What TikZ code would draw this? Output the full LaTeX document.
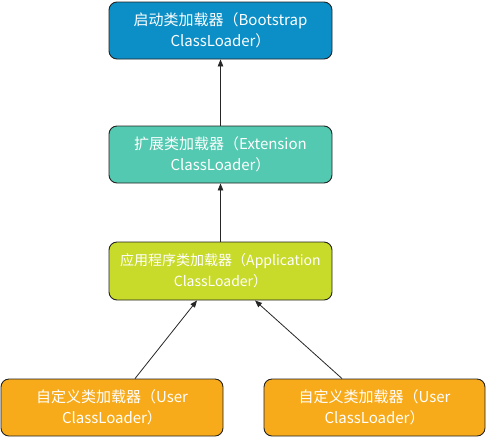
\documentclass[tikz,border=0pt]{standalone}
\usepackage{fontspec}
\setmainfont{Noto Sans CJK SC}
\usetikzlibrary{arrows.meta}
\definecolor{cblue}{HTML}{0B8FC6}
\definecolor{cteal}{HTML}{52C9B0}
\definecolor{clime}{HTML}{C8DA2A}
\definecolor{corange}{HTML}{F8AB1A}
\definecolor{cedge}{HTML}{222222}
\begin{document}
\begin{tikzpicture}[x=1pt,y=-1pt,
  loader/.style={draw=cedge,line width=0.9pt,rounded corners=8pt,text=white,
    align=center,font=\fontsize{15}{21}\selectfont,inner sep=0pt},
  link/.style={draw=black!85,line width=0.8pt,-{Triangle[length=7pt,width=5.5pt]}}]
\useasboundingbox (0,0) rectangle (486,437);
\node[loader,fill=cblue,minimum width=223pt,minimum height=57pt] (boot) at (220.5,30.5)
  {启动类加载器（Bootstrap\\ClassLoader）};
\node[loader,fill=cteal,minimum width=223pt,minimum height=57pt] (ext) at (220.5,154.5)
  {扩展类加载器（Extension\\ClassLoader）};
\node[loader,fill=clime,minimum width=223pt,minimum height=58pt,
  font=\fontsize{14}{21}\selectfont] (app) at (220.5,271)
  {应用程序类加载器（Application\\ClassLoader）};
\node[loader,fill=corange,minimum width=222pt,minimum height=57pt] (u1) at (112,407.5)
  {自定义类加载器（User\\ClassLoader）};
\node[loader,fill=corange,minimum width=221pt,minimum height=57pt] (u2) at (374.5,407.5)
  {自定义类加载器（User\\ClassLoader）};
\draw[link] (ext.north) -- (boot.south);
\draw[link] (app.north) -- (ext.south);
\draw[link] ([xshift=23pt]u1.north) -- ([xshift=-23.5pt]app.south);
\draw[link] ([xshift=-32.5pt]u2.north) -- ([xshift=34.5pt]app.south);
\end{tikzpicture}
\end{document}
